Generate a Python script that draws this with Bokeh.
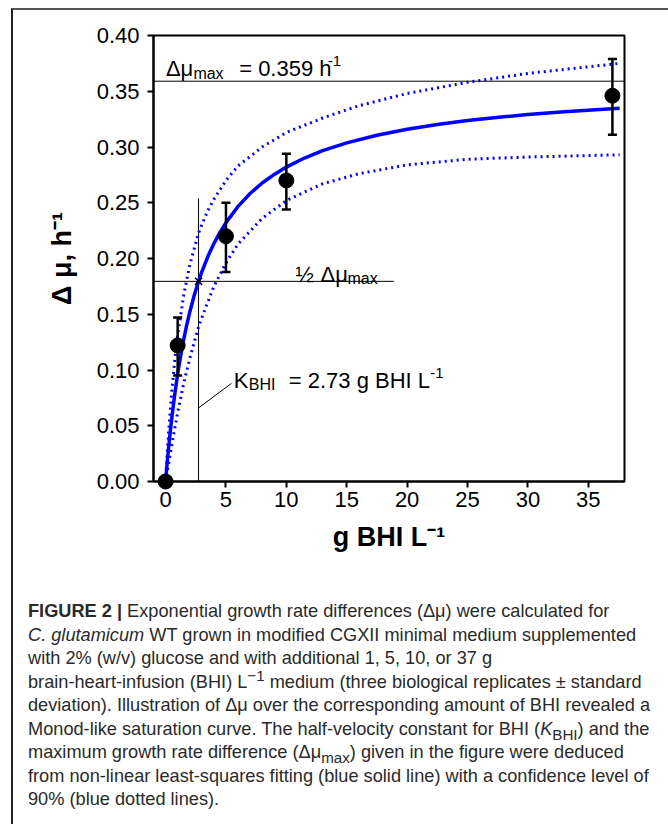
from bokeh.plotting import figure
from bokeh.models import (ColumnDataSource, Whisker, TeeHead, Span, Label,
                          FixedTicker, NumeralTickFormatter, Div, Range1d)
from bokeh.layouts import column
from bokeh.embed import file_html
from bokeh.resources import INLINE

# ---------------- data ----------------
bhi = [0, 1, 5, 10, 37]
dmu = [0.000, 0.122, 0.220, 0.270, 0.346]

err_x = [1, 5, 10, 37]
err_lo = [0.095, 0.188, 0.244, 0.311]
err_hi = [0.147, 0.250, 0.294, 0.379]

fit_x = [0, 0.05, 0.15, 0.25, 0.35, 0.5, 0.75, 1, 1.25, 1.5, 1.75, 2, 2.35, 2.73, 3, 3.5, 4,
         4.5, 5, 6, 7, 8, 9, 10, 11.5, 13, 15, 17.5, 20, 22.5, 25, 28, 30, 33, 37.6]
fit_y = [0, 0.0065, 0.0187, 0.0301, 0.0408, 0.0556, 0.0774, 0.0963, 0.1128, 0.1273, 0.1402,
         0.1518, 0.1661, 0.1795, 0.1880, 0.2017, 0.2134, 0.2234, 0.2322, 0.2467, 0.2583,
         0.2677, 0.2754, 0.2820, 0.2901, 0.2967, 0.3037, 0.3106, 0.3159, 0.3202, 0.3237,
         0.3271, 0.3291, 0.3316, 0.3347]

band_x = [0, 0.1, 0.25, 0.5, 0.75, 1, 1.5, 2, 2.73, 3.5, 4, 5, 6, 8, 10, 13, 16, 20, 25, 30, 37.6]
upper_y = [0, 0.019, 0.044, 0.079, 0.108, 0.131, 0.167, 0.194, 0.223, 0.243, 0.253, 0.270,
           0.283, 0.300, 0.313, 0.326, 0.337, 0.348, 0.358, 0.366, 0.375]
lower_y = [0, 0.006, 0.016, 0.032, 0.047, 0.062, 0.088, 0.110, 0.139, 0.161, 0.175, 0.196,
           0.213, 0.236, 0.252, 0.267, 0.276, 0.284, 0.289, 0.291, 0.293]

mu_max = 0.359
k_bhi = 2.73

x_ticks = [0, 5, 10, 15, 20, 25, 30, 35]
y_ticks = [0.00, 0.05, 0.10, 0.15, 0.20, 0.25, 0.30, 0.35, 0.40]

FONT = "Liberation Sans"
BLUE = "#0000ff"

p = figure(width=655, height=575, x_range=Range1d(-1, 38), y_range=Range1d(0, 0.40),
           output_backend="svg", toolbar_location=None,
           min_border_left=140, min_border_right=44, min_border_top=25, min_border_bottom=104)
p.xgrid.visible = False
p.ygrid.visible = False
p.outline_line_color = "black"
p.outline_line_width = 2
p.outline_line_alpha = 1
p.background_fill_color = "white"
p.border_fill_color = None

p.xaxis.ticker = FixedTicker(ticks=x_ticks)
p.yaxis.ticker = FixedTicker(ticks=y_ticks)
p.yaxis.formatter = NumeralTickFormatter(format="0.00")
for ax in (p.xaxis, p.yaxis):
    ax.axis_line_width = 2
    ax.major_tick_line_width = 2
    ax.major_tick_out = 6
    ax.major_tick_in = 0
    ax.minor_tick_line_color = None
    ax.major_label_text_font = FONT
    ax.major_label_text_font_size = "22px"
    ax.major_label_text_color = "black"
    ax.axis_label_text_font = FONT
    ax.axis_label_text_font_style = "bold"
    ax.axis_label_text_font_size = "27px"
    ax.axis_label_text_color = "black"
p.yaxis.major_label_standoff = 8
p.xaxis.major_label_standoff = 4
p.xaxis.axis_label = "g BHI L\u207b\u00b9"
p.yaxis.axis_label = "\u0394 \u03bc, h\u207b\u00b9"
p.xaxis.axis_label_standoff = 12
p.yaxis.axis_label_standoff = 17

# reference lines
p.add_layout(Span(location=mu_max, dimension="width", line_color="black", line_width=1))
p.segment(x0=[-1], y0=[mu_max / 2], x1=[18.9], y1=[mu_max / 2], line_color="black", line_width=1)
p.segment(x0=[k_bhi], y0=[0], x1=[k_bhi], y1=[0.254], line_color="black", line_width=1)
p.segment(x0=[k_bhi], y0=[0.066], x1=[5.45], y1=[0.088], line_color="black", line_width=1)

# fit and confidence bands
p.line(fit_x, fit_y, line_color=BLUE, line_width=3.5, line_join="round")
p.line(band_x, upper_y, line_color=BLUE, line_width=3, line_dash="2 4")
p.line(band_x, lower_y, line_color=BLUE, line_width=3, line_dash="2 4")

p.scatter([k_bhi], [mu_max / 2], marker="x", size=10, line_color="black", line_width=1.5)

# error bars and points
esrc = ColumnDataSource(dict(x=err_x, lo=err_lo, hi=err_hi))
w = Whisker(base="x", lower="lo", upper="hi", source=esrc, line_color="black", line_width=2.5,
            upper_head=TeeHead(size=9, line_color="black", line_width=2.5),
            lower_head=TeeHead(size=9, line_color="black", line_width=2.5))
w.level = "overlay"
p.add_layout(w)
pts = p.scatter(bhi, dmu, size=15, fill_color="black", line_color="black")
pts.level = "overlay"


def runs(x, y, items):
    for text, dx, dy, fs in items:
        p.add_layout(Label(x=x, y=y, x_offset=dx, y_offset=dy, text=text,
                           text_font=FONT, text_font_size=f"{fs}px", text_color="black",
                           text_baseline="alphabetic", text_align="left"))


runs(0.025, 0.3705, [("\u0394\u03bc", 0, 0, 22), ("max", 27.5, -5, 16),
                     ("= 0.359 h", 73.3, 0, 22), ("-1", 162, 7, 15)])
runs(10.76, 0.1855, [("\u00bd", 0, 0, 22), ("\u0394\u03bc", 25, 0, 22), ("max", 52, -4, 16)])
runs(5.65, 0.0904, [("K", 0, 0, 22), ("BHI", 15, -4, 16),
                    ("= 2.73 g BHI L", 55, 0, 22), ("-1", 196.5, 8, 15)])

caption_html = (
    '<div style="white-space:nowrap;font-family:\'Liberation Sans\';font-size:18.2px;'
    'line-height:23.5px;color:#2a2a2a;">'
    "<b>FIGURE 2 |</b> Exponential growth rate differences (\u0394\u03bc) were calculated for<br>"
    "<i>C. glutamicum</i> WT grown in modified CGXII minimal medium supplemented<br>"
    "with 2% (w/v) glucose and with additional 1, 5, 10, or 37 g<br>"
    "brain-heart-infusion (BHI) L<sup style=\"line-height:0\">\u22121</sup> medium (three biological replicates \u00b1 standard<br>"
    "deviation). Illustration of \u0394\u03bc over the corresponding amount of BHI revealed a<br>"
    "Monod-like saturation curve. The half-velocity constant for BHI (<i>K</i><sub style=\"line-height:0\">BHI</sub>) and the<br>"
    "maximum growth rate difference (\u0394\u03bc<sub style=\"line-height:0\">max</sub>) given in the figure were deduced<br>"
    "from non-linear least-squares fitting (blue solid line) with a confidence level of<br>"
    "90% (blue dotted lines)."
    "</div>"
)
cap = Div(text=caption_html, width=630, height=224, margin=(15, 0, 0, 15))

layout = column(p, cap, margin=(8, 0, 0, 11),
                styles={"border-top": "2px solid #555", "border-left": "2px solid #222",
                        "background-color": "white"})

open("out.html", "w").write(file_html(layout, INLINE))
